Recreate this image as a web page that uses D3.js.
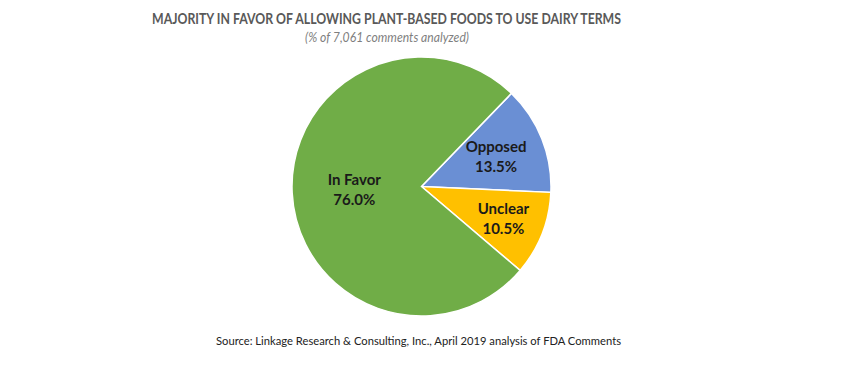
<!DOCTYPE html>
<html>
<head>
<meta charset="utf-8">
<script src="https://cdn.jsdelivr.net/npm/d3@7"></script>
<style>
  html, body { margin: 0; padding: 0; background: #fff; }
  svg { display: block; }
</style>
</head>
<body>
<svg id="chart" width="866" height="365"></svg>
<script>
const categories = ["Opposed", "Unclear", "In Favor"];
const values = [13.5, 10.5, 76.0];
const colors = ["#6A8FD4", "#FFC000", "#70AD47"];
const title = "MAJORITY IN FAVOR OF ALLOWING PLANT-BASED FOODS TO USE DAIRY TERMS";
const subtitle = "(% of 7,061 comments analyzed)";
const source = "Source:  Linkage Research & Consulting, Inc., April 2019 analysis of FDA Comments";

const svg = d3.select("#chart");
const font = "Lato, 'Open Sans', sans-serif";

svg.append("text")
  .attr("x", 386.5).attr("y", 24)
  .attr("text-anchor", "middle")
  .attr("font-family", font).attr("font-weight", "bold")
  .attr("font-size", 16).attr("fill", "#595959")
  .attr("textLength", 469).attr("lengthAdjust", "spacingAndGlyphs")
  .text(title);

svg.append("text")
  .attr("x", 387).attr("y", 42)
  .attr("text-anchor", "middle")
  .attr("font-family", font).attr("font-style", "italic")
  .attr("font-size", 12.5).attr("fill", "#7f7f7f")
  .attr("textLength", 164).attr("lengthAdjust", "spacingAndGlyphs")
  .text(subtitle);

const cx = 421.5, cy = 186.5, r = 129.5;
const startAngle = 44 * Math.PI / 180;

const pie = d3.pie().sort(null).value(d => d.v)
  .startAngle(startAngle).endAngle(startAngle + 2 * Math.PI);
const data = categories.map((c, i) => ({ c, v: values[i], col: colors[i] }));
const arcs = pie(data);
const arc = d3.arc().innerRadius(0).outerRadius(r);

const g = svg.append("g").attr("transform", `translate(${cx},${cy})`);
g.selectAll("path").data(arcs).enter().append("path")
  .attr("d", arc)
  .attr("fill", d => d.data.col)
  .attr("stroke", "#fff").attr("stroke-width", 1.5);

const labelR = { "Opposed": 0.62, "Unclear": 0.68, "In Favor": 0.52 };
arcs.forEach(a => {
  const mid = (a.startAngle + a.endAngle) / 2;
  const lr = r * labelR[a.data.c];
  const x = Math.sin(mid) * lr, y = -Math.cos(mid) * lr;
  const t = g.append("text")
    .attr("text-anchor", "middle")
    .attr("font-family", font).attr("font-weight", "bold")
    .attr("font-size", 15).attr("fill", "#1a1a1a");
  t.append("tspan").attr("x", x).attr("y", y - 5).text(a.data.c);
  t.append("tspan").attr("x", x).attr("y", y + 15).text(a.data.v.toFixed(1) + "%");
});

svg.append("text")
  .attr("x", 418.5).attr("y", 345)
  .attr("text-anchor", "middle")
  .attr("font-family", font)
  .attr("font-size", 12).attr("fill", "#222")
  .attr("textLength", 405).attr("lengthAdjust", "spacingAndGlyphs")
  .text(source);
</script>
</body>
</html>
